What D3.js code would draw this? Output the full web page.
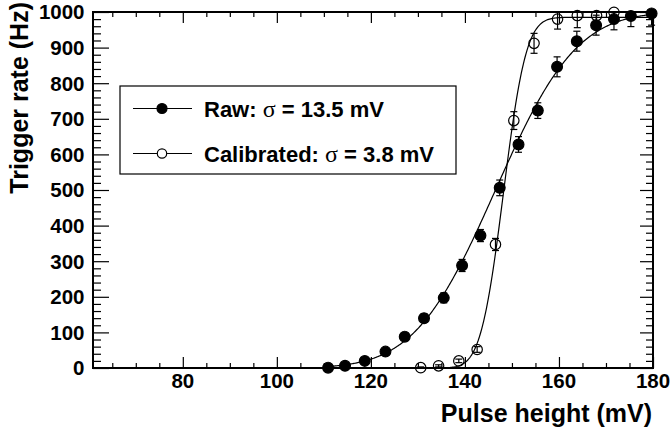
<!DOCTYPE html>
<html>
<head>
<meta charset="utf-8">
<script src="https://cdn.jsdelivr.net/npm/d3@7"></script>
<style>
  html, body { margin: 0; padding: 0; background: #fff; }
  text { font-family: "Liberation Sans", Arial, Helvetica, sans-serif; font-weight: bold; fill: #000; }
</style>
</head>
<body>
<svg id="chart" width="671" height="433"></svg>
<script>
// Data
const rawX = [110.9, 114.5, 118.7, 123.1, 127.2, 131.3, 135.5, 139.4, 143.3, 147.4, 151.4, 155.5, 159.6, 163.8, 167.9, 171.7, 175.3, 179.7];
const rawY = [1, 6, 20, 46, 88, 140, 197, 288, 372, 506, 628, 723, 846, 918, 963, 980, 989, 996];
const rawErr = [2, 4, 6, 8, 10, 12, 14, 17, 17, 22, 22, 22, 28, 28, 28, 30, 30, 33];

const calX = [130.6, 134.4, 138.7, 142.6, 146.5, 150.4, 154.7, 159.7, 163.9, 168.0, 171.7];
const calY = [1, 6, 20, 52, 347, 695, 912, 980, 990, 990, 999];
const calErr = [2, 3, 5, 8, 17, 25, 28, 28, 34, 25, 22];

// fit parameters (error function): mean, sigma, plateau
const rawFit = { mu: 146.5, sigma: 13.5, amp: 1000, from: 110, to: 180 };
const calFit = { mu: 148.2, sigma: 3.8, amp: 985, from: 130, to: 180 };

const xTicks = [80, 100, 120, 140, 160, 180];
const yTicks = [0, 100, 200, 300, 400, 500, 600, 700, 800, 900, 1000];

const legendLabels = [["Raw:", "13.5 mV"], ["Calibrated:", "3.8 mV"]];

// Layout
const width = 671, height = 433;
const margin = { left: 93, right: 18, top: 12, bottom: 65 };
const x = d3.scaleLinear().domain([60.9, 180]).range([margin.left, width - margin.right]);
const y = d3.scaleLinear().domain([0, 1000]).range([height - margin.bottom, margin.top]);

const svg = d3.select("#chart");

// erf approximation (Abramowitz-Stegun)
const erf = v => {
    const s = v < 0 ? -1 : 1;
    v = Math.abs(v);
    const t = 1 / (1 + 0.3275911 * v);
    const p = t * (0.254829592 + t * (-0.284496736 + t * (1.421413741 + t * (-1.453152027 + t * 1.061405429))));
    return s * (1 - p * Math.exp(-v * v));
};
const fitCurve = f => d3.range(f.from, f.to + 0.001, 0.2)
    .map(v => [v, f.amp * 0.5 * (1 + erf((v - f.mu) / (f.sigma * Math.SQRT2)))]);

// Axes: ticks on all four sides, pointing inward
const axisB = svg.append("g")
    .attr("transform", `translate(0,${y(0)})`)
    .call(d3.axisBottom(x).tickValues(d3.range(65, 181, 5)).tickSize(-5).tickFormat(""));
axisB.selectAll(".tick line").filter(d => d % 20 === 0).attr("y2", -11);

const axisT = svg.append("g")
    .attr("transform", `translate(0,${y(1000)})`)
    .call(d3.axisTop(x).tickValues(d3.range(65, 181, 5)).tickSize(-5).tickFormat(""));
axisT.selectAll(".tick line").filter(d => d % 20 === 0).attr("y2", 11);

const axisL = svg.append("g")
    .attr("transform", `translate(${x.range()[0]},0)`)
    .call(d3.axisLeft(y).tickValues(d3.range(0, 1001, 20)).tickSize(-8).tickFormat(""));
axisL.selectAll(".tick line").filter(d => d % 100 === 0).attr("x2", 16);

const axisR = svg.append("g")
    .attr("transform", `translate(${x.range()[1]},0)`)
    .call(d3.axisRight(y).tickValues(d3.range(0, 1001, 20)).tickSize(-7).tickFormat(""));
axisR.selectAll(".tick line").filter(d => d % 100 === 0).attr("x2", -13);

svg.selectAll(".domain").remove();
svg.selectAll(".tick line").attr("stroke", "#000").attr("stroke-width", 1.2);

svg.append("rect")
    .attr("x", x.range()[0]).attr("y", y(1000))
    .attr("width", x.range()[1] - x.range()[0])
    .attr("height", y(0) - y(1000))
    .attr("fill", "none").attr("stroke", "#000").attr("stroke-width", 2);

// Tick labels
svg.append("g").selectAll("text")
    .data(xTicks)
    .join("text")
    .attr("x", d => x(d))
    .attr("y", y(0) + 20)
    .attr("text-anchor", "middle")
    .style("font-size", "20.5px")
    .text(d => d);

svg.append("g").selectAll("text")
    .data(yTicks)
    .join("text")
    .attr("x", x.range()[0] - 8.5)
    .attr("y", d => y(d) + 7.3)
    .attr("text-anchor", "end")
    .style("font-size", "20.5px")
    .text(d => d);

// Axis titles
svg.append("text")
    .attr("x", x.range()[1] - 1)
    .attr("y", 421.5)
    .attr("text-anchor", "end")
    .style("font-size", "25px")
    .text("Pulse height (mV)");

svg.append("text")
    .attr("transform", "translate(27.5,2) rotate(-90)")
    .attr("text-anchor", "end")
    .style("font-size", "25px")
    .text("Trigger rate (Hz)");

// Fit curves
const line = d3.line().x(d => x(d[0])).y(d => y(d[1]));
[rawFit, calFit].forEach(f => {
    svg.append("path")
        .datum(fitCurve(f))
        .attr("d", line)
        .attr("fill", "none")
        .attr("stroke", "#000")
        .attr("stroke-width", 1.2);
});

// Error bars and markers
const drawSeries = (xs, ys, errs, filled) => {
    const pts = xs.map((v, i) => ({ x: v, y: ys[i], e: errs[i] }));
    const g = svg.append("g").attr("stroke", "#000").attr("stroke-width", 1.2);
    g.selectAll("line.bar")
        .data(pts)
        .join("line")
        .attr("class", "bar")
        .attr("x1", d => x(d.x)).attr("x2", d => x(d.x))
        .attr("y1", d => y(Math.max(0, d.y - d.e)))
        .attr("y2", d => y(Math.min(1000, d.y + d.e)));
    [d => Math.max(0, d.y - d.e), d => Math.min(1000, d.y + d.e)].forEach(acc => {
        g.selectAll(null)
            .data(pts)
            .join("line")
            .attr("x1", d => x(d.x) - 3.5).attr("x2", d => x(d.x) + 3.5)
            .attr("y1", d => y(acc(d))).attr("y2", d => y(acc(d)));
    });
    g.selectAll("circle")
        .data(pts)
        .join("circle")
        .attr("cx", d => x(d.x))
        .attr("cy", d => y(d.y))
        .attr("r", filled ? 5.4 : 5.2)
        .attr("fill", filled ? "#000" : "none");
};
drawSeries(rawX, rawY, rawErr, true);
drawSeries(calX, calY, calErr, false);

// Legend
const legend = svg.append("g");
legend.append("rect")
    .attr("x", 120).attr("y", 86).attr("width", 336).attr("height", 88)
    .attr("fill", "#fff").attr("stroke", "#000").attr("stroke-width", 1.2);

legendLabels.forEach((lab, i) => {
    const ly = 108.5 + i * 45;
    legend.append("line")
        .attr("x1", 133).attr("x2", 192).attr("y1", ly).attr("y2", ly)
        .attr("stroke", "#000").attr("stroke-width", 1.2);
    legend.append("circle")
        .attr("cx", 162).attr("cy", ly).attr("r", i === 0 ? 5 : 4.7)
        .attr("fill", i === 0 ? "#000" : "#fff")
        .attr("stroke", "#000").attr("stroke-width", 1.2);
    const t = legend.append("text")
        .attr("x", 204).attr("y", ly + 8)
        .style("font-size", "22px");
    t.append("tspan").text(lab[0] + " ");
    t.append("tspan")
        .style("font-family", "'Liberation Serif', 'DejaVu Serif', serif")
        .style("font-weight", "normal")
        .style("font-size", "24px")
        .text("σ");
    t.append("tspan").text(" = " + lab[1]);
});
</script>
</body>
</html>
